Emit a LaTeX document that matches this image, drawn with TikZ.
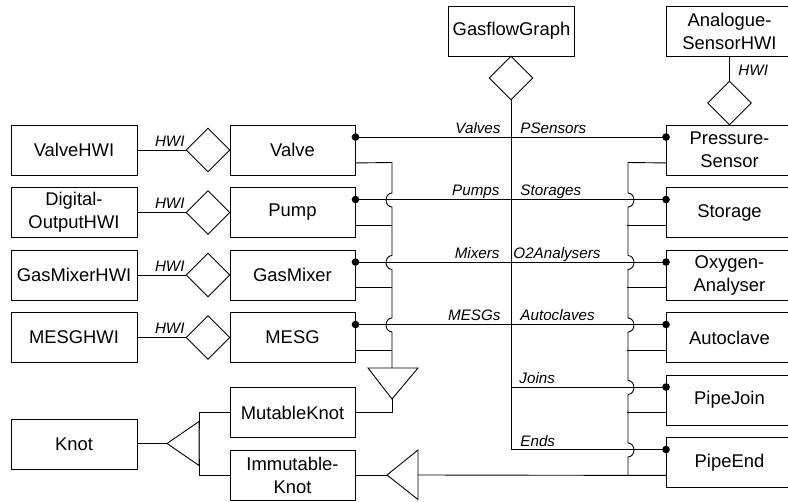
\documentclass[tikz,border=0pt]{standalone}
\usepackage{fontspec}
\setmainfont{Liberation Sans}
\usepackage{tikz}
\usetikzlibrary{calc,shapes.geometric}

\begin{document}
\begin{tikzpicture}[x=0.5pt,y=-0.5pt,line width=0.45pt,
    cls/.style={draw,rectangle,minimum width=63pt,minimum height=25pt,inner sep=1pt,align=center,font=\fontsize{9.2}{11.5}\selectfont},
    assoc/.style={draw,diamond,minimum width=22pt,minimum height=22pt,inner sep=0pt},
    role/.style={inner sep=0pt,font=\fontsize{7.6}{9}\selectfont\itshape}]
    \clip (0,0) rectangle (788,502);
    \node[cls] (valvehwi) at (74,150) {ValveHWI};
    \node[cls] (douthwi) at (74,212.5) {Digital-\\OutputHWI};
    \node[cls] (mixhwi) at (74,275) {GasMixerHWI};
    \node[cls] (mesghwi) at (74,337.5) {MESGHWI};
    \node[cls] (knot) at (74,444) {Knot};
    \node[assoc] (d1) at (208,150) {};
    \node[assoc] (d2) at (208,212.5) {};
    \node[assoc] (d3) at (208,275) {};
    \node[assoc] (d4) at (208,337.5) {};
    \node[cls,minimum width=62.5pt] (valve) at (292.5,150) {Valve};
    \node[cls,minimum width=62.5pt] (pump) at (292.5,212.5) {Pump};
    \node[cls,minimum width=62.5pt] (gasmixer) at (292.5,275) {GasMixer};
    \node[cls,minimum width=62.5pt] (mesg) at (292.5,337.5) {MESG};
    \node[cls,minimum width=62.5pt] (mutable) at (292.5,412.5) {MutableKnot};
    \node[cls,minimum width=62.5pt] (immut) at (292.5,475) {Immutable-\\Knot};
    \node[cls] (gfg) at (511.5,31) {GasflowGraph};
    \node[assoc] (gfgd) at (511,78) {};
    \node[cls] (anhwi) at (729.5,31) {Analogue-\\SensorHWI};
    \node[assoc] (anhwid) at (729.5,103) {};
    \node[cls] (psensor) at (729.5,150) {Pressure-\\Sensor};
    \node[cls] (storage) at (729.5,212.5) {Storage};
    \node[cls] (oxy) at (729.5,275) {Oxygen-\\Analyser};
    \node[cls] (autoclave) at (729.5,337.5) {Autoclave};
    \node[cls] (pipejoin) at (729.5,400) {PipeJoin};
    \node[cls] (pipeend) at (729.5,462.5) {PipeEnd};

    \foreach \h/\d in {valvehwi/d1,douthwi/d2,mixhwi/d3,mesghwi/d4}
      \draw (\h) -- (\d);
    \foreach \y in {146.5,209,271.5,334}
      \node[role,anchor=base east] at (185,\y) {HWI};
    \draw (anhwi) -- (anhwid);
    \node[role,anchor=base west] at (738,76) {HWI};

    \foreach \l/\r in {valve/psensor,pump/storage,gasmixer/oxy,mesg/autoclave}
      \draw ([yshift=-6.25pt]\l.north east) -- ([yshift=-6.25pt]\r.north west);
    \coordinate (pj) at ([yshift=-6.25pt]pipejoin.north west);
    \coordinate (pe) at ([yshift=-6.25pt]pipeend.north west);
    \draw (gfgd.south) -- (gfgd.south |- pe) -- (pe);
    \draw (gfgd.south |- pj) -- (pj);
    \foreach \n in {valve,pump,gasmixer,mesg}
      \fill ([yshift=-6.25pt]\n.north east) circle (1.9pt);
    \foreach \n in {psensor,storage,oxy,autoclave,pipejoin,pipeend}
      \fill ([yshift=-6.25pt]\n.north west) circle (1.9pt);

    \node[role,anchor=base east] at (501,133.5) {Valves};
    \node[role,anchor=base west] at (520,133.5) {PSensors};
    \node[role,anchor=base east] at (500,196) {Pumps};
    \node[role,anchor=base west] at (520,196) {Storages};
    \node[role,anchor=base east] at (500,258.5) {Mixers};
    \node[role,anchor=base west] at (513,258.5) {O2Analysers};
    \node[role,anchor=base east] at (501,321) {MESGs};
    \node[role,anchor=base west] at (520,321) {Autoclaves};
    \node[role,anchor=base west] at (519,383.5) {Joins};
    \node[role,anchor=base west] at (520,446) {Ends};

    \coordinate (gen1base) at (392,368);
    \coordinate (gen1tip) at (392,399);
    \draw ([yshift=6.25pt]valve.south east) -- (392,162.5)
      \foreach \y in {200,262.5,325} { -- (392,\y-7) arc[start angle=90,end angle=270,x radius=3pt,y radius=3.5pt] }
      -- (gen1base);
    \foreach \n in {pump,gasmixer,mesg}
      \draw ([yshift=6.25pt]\n.south east) -- ++(37,0);
    \draw (368,368) -- (418,368) -- (gen1tip) -- cycle;
    \draw (gen1tip) |- (mutable.east);

    \coordinate (gen2base) at (418,475);
    \coordinate (gen2tip) at (387,475);
    \draw ([yshift=6.25pt]psensor.south west) -- (628,162.5)
      \foreach \y in {200,262.5,325,387.5,450} { -- (628,\y-7) arc[start angle=90,end angle=-90,x radius=3pt,y radius=3.5pt] }
      -- (628,475);
    \foreach \n in {storage,oxy,autoclave,pipejoin}
      \draw ([yshift=6.25pt]\n.south west) -- ++(-39,0);
    \draw ([yshift=6.25pt]pipeend.south west) -- (gen2base);
    \draw (418,450) -- (418,499.5) -- (gen2tip) -- cycle;
    \draw (gen2tip) -- (immut.east);

    \coordinate (gen3base) at (199,443.5);
    \coordinate (gen3tip) at (167,443.5);
    \draw (knot.east |- gen3tip) -- (gen3tip);
    \draw (199,421.5) -- (199,465.5) -- (gen3tip) -- cycle;
    \draw (mutable.west) -| (gen3base) |- (immut.west);
\end{tikzpicture}
\end{document}
